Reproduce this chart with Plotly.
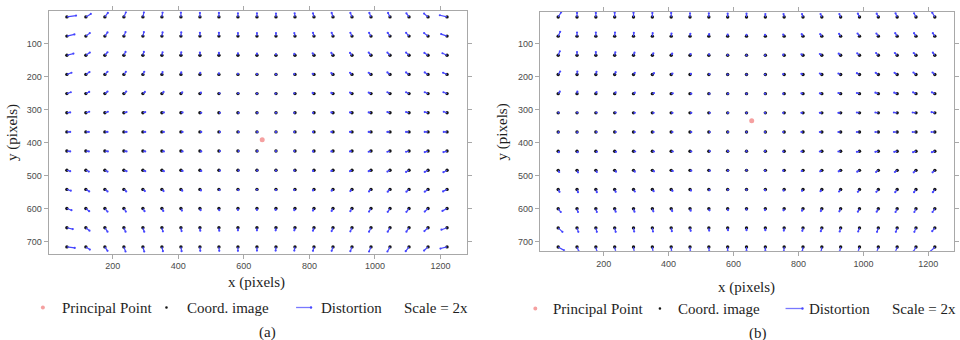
import plotly.graph_objects as go

# ---------------- data ----------------
GRID_X = [60, 118, 176, 234, 292, 350, 408, 466, 524, 582, 640,
          698, 756, 814, 872, 930, 988, 1046, 1104, 1162, 1220]
GRID_Y = [20, 78, 136, 194, 252, 310, 368, 426, 484, 542, 600, 658, 716]

PRINCIPAL_A = (656, 392)
PRINCIPAL_B = (656, 334)

X_TICKS = [200, 400, 600, 800, 1000, 1200]
Y_TICKS = [100, 200, 300, 400, 500, 600, 700]

# distortion vectors as displayed (scale = 2x), one row per GRID_Y, one column per GRID_X
DX_A = [
    [28, 15, 9, 6, 3, 2, 0, 0, 0, 0, 0, 0, -1, -3, -4, -5, -5, -6, -8, -12, -22],
    [23, 12, 8, 5, 3, 2, 1, 0, 0, 0, 0, 0, -2, -3, -4, -5, -6, -7, -9, -12, -18],
    [20, 12, 8, 5, 3, 2, 1, 0, 0, 0, 0, 0, -2, -4, -5, -6, -7, -8, -9, -11, -14],
    [14, 11, 8, 6, 4, 2, 1, 1, 0, 0, 0, 0, -2, -4, -5, -6, -7, -8, -9, -10, -12],
    [12, 10, 8, 7, 6, 5, 4, 3, 2, 1, 0, -1, -2, -4, -5, -6, -7, -8, -9, -10, -11],
    [10, 10, 9, 8, 7, 6, 5, 4, 3, 2, 1, 0, -2, -3, -5, -6, -7, -8, -9, -10, -10],
    [10, 9, 8, 8, 7, 6, 5, 4, 3, 2, 1, 0, -2, -3, -5, -6, -7, -8, -9, -10, -10],
    [10, 9, 9, 8, 7, 6, 5, 4, 3, 2, 1, 0, -2, -3, -5, -6, -7, -8, -9, -10, -11],
    [10, 9, 8, 8, 7, 6, 5, 4, 3, 2, 1, 0, -2, -3, -5, -6, -7, -8, -9, -10, -11],
    [12, 10, 8, 7, 6, 5, 4, 3, 2, 1, 0, 0, -2, -3, -4, -5, -6, -7, -8, -10, -12],
    [14, 10, 8, 6, 5, 4, 3, 2, 1, 0, 0, -1, -2, -3, -4, -5, -6, -7, -8, -10, -14],
    [18, 11, 8, 5, 4, 3, 2, 1, 1, 0, 0, -1, -2, -3, -4, -5, -6, -7, -8, -11, -17],
    [24, 12, 8, 5, 4, 3, 2, 1, 1, 0, 0, -1, -2, -3, -4, -5, -6, -8, -10, -12, -20],
]
DY_A = [
    [-4, -9, -12, -14, -14, -13, -13, -12, -12, -11, -11, -10, -11, -11, -12, -12, -12, -12, -11, -10, -5],
    [-5, -9, -11, -12, -12, -11, -11, -10, -10, -9, -9, -9, -9, -10, -10, -10, -10, -10, -10, -9, -6],
    [-5, -8, -9, -10, -10, -9, -9, -8, -7, -6, -5, -3, -4, -6, -7, -7, -8, -8, -8, -7, -6],
    [-5, -7, -8, -8, -8, -7, -6, -5, -3, -2, -1, 0, -1, -2, -4, -5, -5, -6, -6, -6, -5],
    [-4, -5, -6, -6, -5, -5, -4, -3, -1, -1, 0, 0, -1, -2, -2, -3, -3, -4, -4, -4, -4],
    [-1, -3, -3, -2, -2, -1, -1, 0, 0, 0, 0, 0, 0, 0, -1, -1, -1, -2, -2, -2, -3],
    [0, 0, 0, 0, 0, 0, 0, 0, 0, 0, 0, 0, 0, 0, 0, 0, 0, 0, 0, 0, 0],
    [1, 1, 1, 1, 1, 1, 1, 1, 0, 0, 0, 0, 0, 1, 1, 1, 2, 2, 2, 3, 3],
    [3, 4, 4, 3, 3, 3, 2, 2, 1, 1, 1, 1, 1, 2, 2, 3, 3, 4, 5, 5, 6],
    [4, 6, 6, 6, 5, 5, 4, 3, 2, 2, 1, 2, 2, 3, 4, 5, 6, 7, 7, 7, 6],
    [5, 8, 9, 9, 8, 7, 6, 5, 5, 4, 4, 4, 5, 6, 7, 8, 9, 10, 10, 9, 7],
    [4, 9, 12, 12, 12, 11, 10, 9, 9, 8, 8, 8, 8, 9, 10, 11, 12, 12, 12, 10, 6],
    [3, 8, 12, 14, 14, 13, 13, 12, 12, 12, 11, 11, 11, 12, 12, 13, 14, 14, 13, 11, 5],
]

DX_B = [
    [9, 0, 0, 0, 0, 0, 0, 0, 0, 0, 0, 0, -2, -3, -4, -4, -5, -5, -5, -6, -8],
    [6, 0, 0, 1, 1, 1, 1, 1, 1, 0, 0, -1, -3, -4, -5, -5, -6, -6, -6, -6, -6],
    [5, 0, 0, 2, 3, 3, 3, 2, 1, 0, 0, -1, -3, -5, -6, -6, -7, -7, -7, -7, -6],
    [6, 1, 2, 3, 4, 5, 4, 3, 2, 0, 0, -1, -3, -5, -6, -7, -8, -8, -8, -8, -7],
    [5, 1, 2, 3, 4, 5, 5, 4, 2, 1, 0, -1, -3, -5, -6, -7, -8, -9, -9, -9, -9],
    [1, 1, 2, 3, 4, 4, 4, 4, 3, 1, 0, -1, -3, -5, -6, -7, -8, -9, -10, -10, -10],
    [1, 1, 2, 3, 4, 4, 4, 4, 3, 1, 0, -1, -3, -5, -6, -7, -8, -9, -10, -10, -10],
    [2, 2, 3, 4, 5, 5, 5, 4, 3, 1, 0, -1, -3, -5, -6, -7, -8, -9, -9, -9, -9],
    [3, 3, 3, 4, 4, 5, 5, 4, 3, 1, 0, -1, -3, -4, -5, -6, -7, -7, -7, -7, -7],
    [4, 3, 3, 3, 4, 4, 4, 3, 2, 1, 0, -1, -2, -3, -4, -5, -5, -6, -6, -6, -6],
    [8, 3, 3, 3, 3, 3, 3, 2, 2, 1, 0, -1, -2, -3, -3, -4, -5, -5, -5, -5, -7],
    [13, 4, 3, 3, 2, 2, 2, 2, 1, 1, 0, 0, -1, -2, -3, -3, -4, -4, -4, -5, -8],
    [18, 5, 3, 3, 2, 2, 1, 1, 1, 0, 0, 0, -1, -2, -2, -3, -4, -4, -5, -7, -12],
]
DY_B = [
    [-14, -12, -12, -13, -13, -12, -12, -11, -11, -10, -10, -9, -9, -9, -9, -9, -10, -10, -11, -11, -13],
    [-13, -11, -11, -11, -10, -9, -8, -7, -6, -5, -4, -4, -5, -6, -6, -7, -8, -8, -9, -9, -9],
    [-12, -10, -10, -9, -8, -6, -5, -4, -3, -1, 0, 0, -2, -3, -4, -5, -6, -7, -7, -7, -8],
    [-9, -9, -8, -7, -5, -4, -3, -2, -1, 0, 0, 0, -1, -2, -3, -3, -4, -5, -5, -6, -6],
    [-6, -6, -5, -4, -3, -2, -1, 0, 0, 0, 0, 0, 0, -1, -1, -2, -2, -3, -3, -4, -4],
    [-1, -1, -1, -1, 0, 0, 0, 0, 0, 0, 0, 0, 0, 0, 0, 0, -1, -1, -1, -1, -2],
    [1, 1, 0, 0, 0, 0, 0, 0, 0, 0, 0, 0, 0, 0, 0, 0, 0, 0, 0, 0, 0],
    [3, 3, 2, 2, 1, 1, 1, 1, 0, 0, 0, 0, 1, 1, 1, 1, 2, 2, 2, 3, 3],
    [5, 6, 5, 4, 4, 3, 2, 1, 1, 1, 0, 1, 1, 2, 3, 3, 4, 5, 5, 6, 6],
    [7, 8, 8, 7, 6, 5, 4, 3, 2, 1, 1, 2, 3, 4, 5, 6, 7, 7, 8, 8, 8],
    [10, 10, 10, 9, 9, 8, 7, 6, 5, 4, 3, 4, 5, 6, 7, 8, 9, 9, 10, 10, 10],
    [12, 12, 12, 12, 11, 11, 10, 9, 8, 7, 7, 7, 8, 9, 10, 11, 11, 12, 12, 12, 10],
    [10, 12, 13, 14, 14, 14, 13, 13, 12, 12, 11, 11, 12, 12, 13, 13, 14, 14, 14, 12, 12],
]

LEGEND_LABELS = ["Principal Point", "Coord. image", "Distortion", "Scale = 2x"]
PANEL_LABELS = ["(a)", "(b)"]

# ---------------- styling ----------------
W, H = 960, 340
BLUE = "rgb(70,70,255)"
PINK = "rgb(245,160,160)"
DOT = "#151515"
FRAME = "#a8a8a8"
SERIF = "Liberation Serif, Times New Roman, serif"
SANS = "Liberation Sans, Arial, sans-serif"

panels = [
    dict(dx=DX_A, dy=DY_A, pp=PRINCIPAL_A, xd=[49, 468.5], yd=[11.3, 253.5],
         xr=[5, 1281], yr=[736, 3], xa="x", ya="y"),
    dict(dx=DX_B, dy=DY_B, pp=PRINCIPAL_B, xd=[541.7, 957.3], yd=[12, 250.7],
         xr=[4, 1280], yr=[727, 5], xa="x2", ya="y2"),
]

fig = go.Figure()

for p in panels:
    lx, ly = [], []
    tx, ty = [], []
    px, py = [], []
    for j, gy in enumerate(GRID_Y):
        for i, gx in enumerate(GRID_X):
            ex = gx + p["dx"][j][i]
            ey = gy + p["dy"][j][i]
            lx += [gx, ex, None]
            ly += [gy, ey, None]
            tx.append(ex)
            ty.append(ey)
            px.append(gx)
            py.append(gy)
    # black coordinate points underneath
    fig.add_trace(go.Scatter(
        x=px, y=py, mode="markers", xaxis=p["xa"], yaxis=p["ya"],
        marker=dict(color=DOT, size=3.4, line=dict(width=0)),
        showlegend=False, name=LEGEND_LABELS[1]))
    # distortion vectors
    fig.add_trace(go.Scatter(
        x=lx, y=ly, mode="lines", xaxis=p["xa"], yaxis=p["ya"],
        line=dict(color=BLUE, width=1.2),
        hoverinfo="skip", showlegend=False, connectgaps=False, name=LEGEND_LABELS[2]))
    # vector tips
    fig.add_trace(go.Scatter(
        x=tx, y=ty, mode="markers", xaxis=p["xa"], yaxis=p["ya"],
        marker=dict(color=BLUE, size=2.2, line=dict(width=0)),
        hoverinfo="skip", showlegend=False))
    fig.add_trace(go.Scatter(
        x=[p["pp"][0]], y=[p["pp"][1]], mode="markers", xaxis=p["xa"], yaxis=p["ya"],
        marker=dict(color=PINK, size=5, line=dict(width=0)),
        showlegend=False, name=LEGEND_LABELS[0]))

axis_common = dict(showgrid=False, zeroline=False, showline=True, mirror="ticks",
                   linecolor=FRAME, linewidth=1.3, ticks="outside", ticklen=4,
                   tickcolor=FRAME, tickwidth=1,
                   tickfont=dict(family=SANS, size=9, color="#4a4a4a"))

for k, p in enumerate(panels):
    sfx = "" if k == 0 else "2"
    fig.layout["xaxis" + sfx] = dict(
        axis_common, domain=[p["xd"][0] / W, p["xd"][1] / W], range=p["xr"],
        tickvals=X_TICKS, anchor="y" + sfx)
    fig.layout["yaxis" + sfx] = dict(
        axis_common, domain=[1 - p["yd"][1] / H, 1 - p["yd"][0] / H], range=p["yr"],
        tickvals=Y_TICKS, anchor="x" + sfx)

annotations = []
shapes = []


def text(x, y, s, size=15, angle=0, xanchor="left"):
    annotations.append(dict(x=x / W, y=1 - y / H, xref="paper", yref="paper",
                            text=s, showarrow=False, xanchor=xanchor, yanchor="middle",
                            textangle=angle,
                            font=dict(family=SERIF, size=size, color="#1e1e1e")))


# axis titles, panel labels
text(257, 282, "x (pixels)", xanchor="center")
text(749, 287, "x (pixels)", xanchor="center")
text(13, 132, "y (pixels)", angle=-90, xanchor="center")
text(505, 132, "y (pixels)", angle=-90, xanchor="center")
text(268, 332, PANEL_LABELS[0], xanchor="center")
text(760, 333, PANEL_LABELS[1], xanchor="center")

# legends
legend_pos = [
    dict(y=307.5, pink=43, t1=60, black=167, t2=186, l0=297, l1=312, t3=320, t4=403),
    dict(y=308.5, pink=537, t1=553, black=662, t2=678, l0=788, l1=805, t3=810, t4=893),
]
for L in legend_pos:
    yy = 1 - L["y"] / H
    r = 2.0
    shapes.append(dict(type="circle", xref="paper", yref="paper",
                       x0=(L["pink"] - r) / W, x1=(L["pink"] + r) / W,
                       y0=yy - r / H, y1=yy + r / H,
                       fillcolor=PINK, line=dict(width=0)))
    r = 1.3
    shapes.append(dict(type="circle", xref="paper", yref="paper",
                       x0=(L["black"] - r) / W, x1=(L["black"] + r) / W,
                       y0=yy - r / H, y1=yy + r / H,
                       fillcolor=DOT, line=dict(width=0)))
    shapes.append(dict(type="line", xref="paper", yref="paper",
                       x0=L["l0"] / W, x1=L["l1"] / W, y0=yy, y1=yy,
                       line=dict(color="rgb(120,120,255)", width=1.3)))
    r = 1.2
    shapes.append(dict(type="circle", xref="paper", yref="paper",
                       x0=(L["l1"] - r) / W, x1=(L["l1"] + r) / W,
                       y0=yy - r / H, y1=yy + r / H,
                       fillcolor=BLUE, line=dict(width=0)))
    text(L["t1"], L["y"], LEGEND_LABELS[0])
    text(L["t2"], L["y"], LEGEND_LABELS[1])
    text(L["t3"], L["y"], LEGEND_LABELS[2])
    text(L["t4"], L["y"], LEGEND_LABELS[3])

fig.update_layout(width=W, height=H, margin=dict(l=0, r=0, t=0, b=0),
                  paper_bgcolor="white", plot_bgcolor="white",
                  showlegend=False, annotations=annotations, shapes=shapes)

fig.write_html("out.html")
